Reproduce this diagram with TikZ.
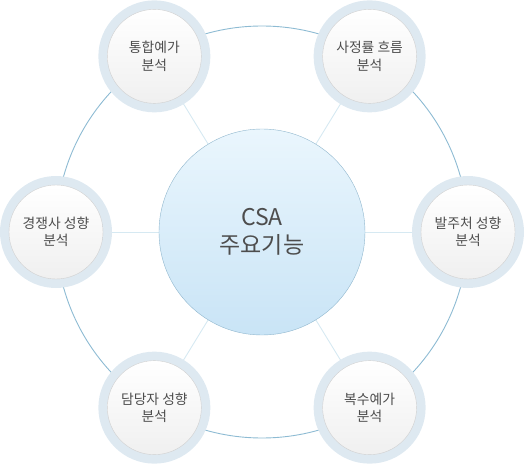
\documentclass[tikz,border=0pt]{standalone}
\usepackage{fontspec}
\newfontfamily\krfont{Noto Sans CJK KR}
\usetikzlibrary{positioning,backgrounds}
\definecolor{ringline}{HTML}{8DBBD3}
\definecolor{spokeline}{HTML}{D6E9F2}
\definecolor{haloblue}{HTML}{DEE9F1}
\definecolor{discedge}{HTML}{D0D0D0}
\definecolor{hubtop}{HTML}{EAF6FD}
\definecolor{hubbot}{HTML}{C9E4F6}
\definecolor{hubedge}{HTML}{8FB6CD}
\definecolor{labeltext}{HTML}{4D4D4D}
\tikzset{
halo/.style={circle,fill=haloblue,minimum size=112pt,inner sep=0pt},
topic/.style={circle,draw=discedge,top color=white,bottom color=black!6,
  minimum size=94pt,inner sep=0pt,align=center,text=labeltext,
  font=\krfont\fontsize{13.8}{17.5}\selectfont},
hub/.style={circle,draw=hubedge,top color=hubtop,bottom color=hubbot,
  minimum size=206pt,inner sep=0pt,align=center,text=labeltext,
  font=\krfont\fontsize{23}{28.5}\selectfont},
orbit/.style={draw=ringline,line width=0.9pt},
spoke/.style={draw=spokeline,line width=0.9pt}
}
\begin{document}
\begin{tikzpicture}[x=1pt,y=1pt]
\useasboundingbox (-262,-234) rectangle (263,232);
\node[hub] (csa) at (0,0) {CSA\\주요기능};
\node[halo] at (121.5:206) {};
\node[topic] (forecast) at (121.5:206) {통합예가\\분석};
\node[halo] at (58.5:206) {};
\node[topic] (flow) at (58.5:206) {사정률 흐름\\분석};
\node[halo] at (0:206) {};
\node[topic] (buyer) at (0:206) {발주처 성향\\분석};
\node[halo] at (-58.5:206) {};
\node[topic] (multi) at (-58.5:206) {복수예가\\분석};
\node[halo] at (-121.5:206) {};
\node[topic] (officer) at (-121.5:206) {담당자 성향\\분석};
\node[halo] at (180:206) {};
\node[topic] (rival) at (180:206) {경쟁사 성향\\분석};
\begin{scope}[on background layer]
\draw[orbit] (csa.center) circle (206);
\draw[spoke] (csa) -- (forecast);
\draw[spoke] (csa) -- (flow);
\draw[spoke] (csa) -- (buyer);
\draw[spoke] (csa) -- (multi);
\draw[spoke] (csa) -- (officer);
\draw[spoke] (csa) -- (rival);
\end{scope}
\end{tikzpicture}
\end{document}
